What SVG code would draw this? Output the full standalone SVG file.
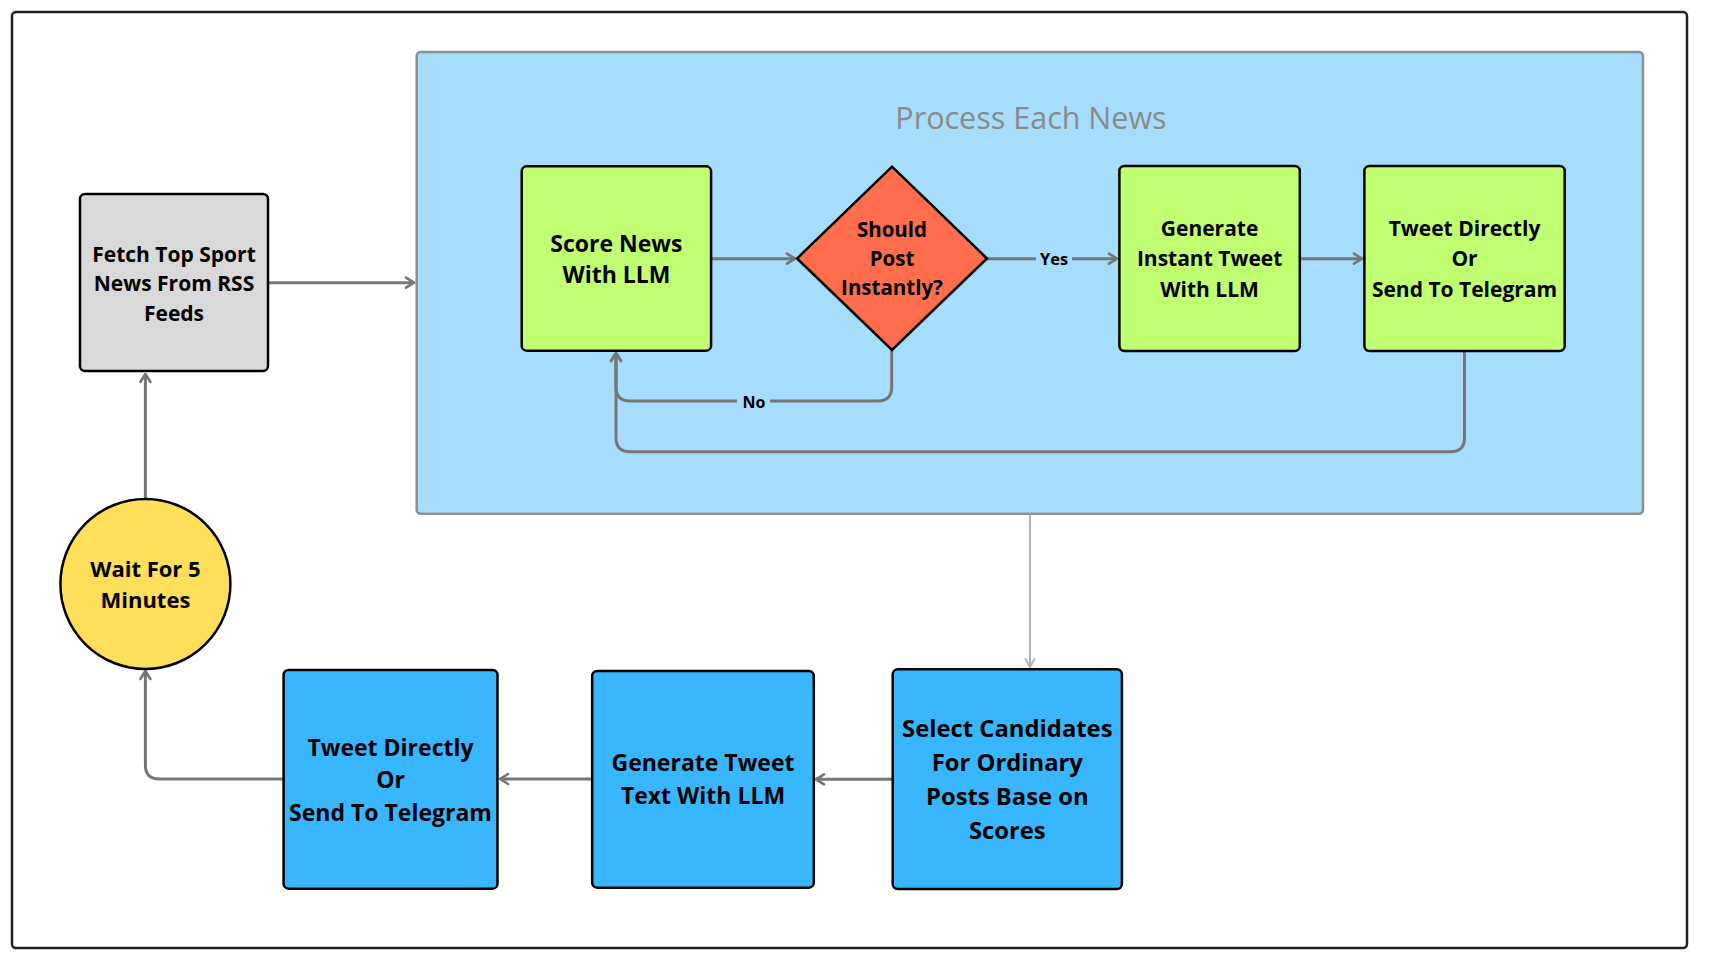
<svg xmlns="http://www.w3.org/2000/svg" width="1709" height="971" viewBox="0 0 1709 971">
<style>
.lbl{font-family:"Open Sans","Liberation Sans",sans-serif;font-weight:700;fill:#000;text-anchor:middle}
.box{stroke:#000;stroke-width:2.5}
.con{fill:none;stroke:#767676;stroke-width:3}
.con2{fill:none;stroke:#b3b3b3;stroke-width:2}
</style>
<defs>
<marker id="ah" viewBox="-11 -7 13 14" refX="0" refY="0" markerWidth="13" markerHeight="14" markerUnits="userSpaceOnUse" orient="auto">
<path d="M-8,-5 L0,0 L-8,5" fill="none" stroke="#767676" stroke-width="2.6" stroke-linecap="round" stroke-linejoin="round"/>
</marker>
<marker id="ah2" viewBox="-11 -7 13 14" refX="0" refY="0" markerWidth="13" markerHeight="14" markerUnits="userSpaceOnUse" orient="auto">
<path d="M-8,-4.5 L0,0 L-8,4.5" fill="none" stroke="#b3b3b3" stroke-width="2" stroke-linecap="round" stroke-linejoin="round"/>
</marker>
</defs>
<rect width="1709" height="971" fill="#fff"/>
<rect x="12" y="12" width="1675" height="936" rx="4" fill="#fff" stroke="#222" stroke-width="2.5"/>

<g id="container">
<rect x="416.7" y="52" width="1226.3" height="461.7" rx="4" fill="#A6DDFD" stroke="#8f8f8f" stroke-width="2.5"/>
<text x="1031" y="129.3" font-family="Open Sans, Liberation Sans, sans-serif" font-size="30.5" fill="#8a8a8a" text-anchor="middle">Process Each News</text>
</g>

<g id="connectors">
<path class="con" d="M268 282.7 H414" marker-end="url(#ah)"/>
<path class="con" d="M711 258.7 H795" marker-end="url(#ah)"/>
<path class="con" d="M987 258.7 H1036"/>
<path class="con" d="M1072 258.7 H1117" marker-end="url(#ah)"/>
<path class="con" d="M1300 258.7 H1362" marker-end="url(#ah)"/>
<path class="con" d="M891.7 350 V387 Q891.7 401 877.7 401 H770"/>
<path class="con" d="M737 401 H630 Q616 401 616 387 V353" marker-end="url(#ah)"/>
<path class="con" d="M1464.5 351 V437.7 Q1464.5 451.7 1450.5 451.7 H630 Q616 451.7 616 437.7 V353" marker-end="url(#ah)"/>
<path class="con2" d="M1030 514.5 V667" marker-end="url(#ah2)"/>
<path class="con" d="M892.7 779.3 H816" marker-end="url(#ah)"/>
<path class="con" d="M592 779 H500" marker-end="url(#ah)"/>
<path class="con" d="M283.6 779 H159.4 Q145.4 779 145.4 765 V671" marker-end="url(#ah)"/>
<path class="con" d="M145.4 499.3 V374" marker-end="url(#ah)"/>
<text class="lbl" x="1054" y="265" font-size="16.5">Yes</text>
<text class="lbl" x="754" y="407.7" font-size="16">No</text>
</g>

<g id="fetch">
<rect class="box" x="80" y="194" width="188" height="177" rx="5" fill="#D9D9D9"/>
<text class="lbl" font-size="21"><tspan x="174" y="262">Fetch Top Sport</tspan><tspan x="174" y="291.3">News From RSS</tspan><tspan x="174" y="320.7">Feeds</tspan></text>
</g>

<g id="score">
<rect class="box" x="521.7" y="166.3" width="189.4" height="184.4" rx="5" fill="#C1FF72"/>
<text class="lbl" font-size="23"><tspan x="616.4" y="251.7">Score News</tspan><tspan x="616.4" y="283.3">With LLM</tspan></text>
</g>

<g id="decision">
<polygon class="box" points="892,166.7 987,258.5 892,350 797,258.5" fill="#FF6D4D" stroke-linejoin="miter"/>
<text class="lbl" font-size="20.5"><tspan x="892" y="236.7">Should</tspan><tspan x="892" y="266">Post</tspan><tspan x="892" y="295">Instantly?</tspan></text>
</g>

<g id="generate-instant">
<rect class="box" x="1119.4" y="166" width="180.4" height="185" rx="5" fill="#C1FF72"/>
<text class="lbl" font-size="21"><tspan x="1209.6" y="235.7">Generate</tspan><tspan x="1209.6" y="266">Instant Tweet</tspan><tspan x="1209.6" y="296.7">With LLM</tspan></text>
</g>

<g id="tweet-instant">
<rect class="box" x="1364.4" y="166" width="200.3" height="185" rx="5" fill="#C1FF72"/>
<text class="lbl" font-size="21"><tspan x="1464.5" y="235.7">Tweet Directly</tspan><tspan x="1464.5" y="266">Or</tspan><tspan x="1464.5" y="296.7">Send To Telegram</tspan></text>
</g>

<g id="wait">
<circle class="box" cx="145.4" cy="584" r="85" fill="#FFDE59"/>
<text class="lbl" font-size="22"><tspan x="145.4" y="576.7">Wait For 5</tspan><tspan x="145.4" y="607.7">Minutes</tspan></text>
</g>

<g id="tweet-ordinary">
<rect class="box" x="283.6" y="670" width="213.9" height="218.7" rx="5" fill="#38B6FF"/>
<text class="lbl" font-size="23"><tspan x="390.5" y="756">Tweet Directly</tspan><tspan x="390.5" y="788.3">Or</tspan><tspan x="390.5" y="820.7">Send To Telegram</tspan></text>
</g>

<g id="generate-ordinary">
<rect class="box" x="592.2" y="671" width="221.6" height="216.7" rx="5" fill="#38B6FF"/>
<text class="lbl" font-size="23"><tspan x="703" y="770.7">Generate Tweet</tspan><tspan x="703" y="804">Text With LLM</tspan></text>
</g>

<g id="select">
<rect class="box" x="892.7" y="669.3" width="229.2" height="219.7" rx="5" fill="#38B6FF"/>
<text class="lbl" font-size="23.8"><tspan x="1007.3" y="736.7">Select Candidates</tspan><tspan x="1007.3" y="770.7">For Ordinary</tspan><tspan x="1007.3" y="805">Posts Base on</tspan><tspan x="1007.3" y="839">Scores</tspan></text>
</g>
</svg>
